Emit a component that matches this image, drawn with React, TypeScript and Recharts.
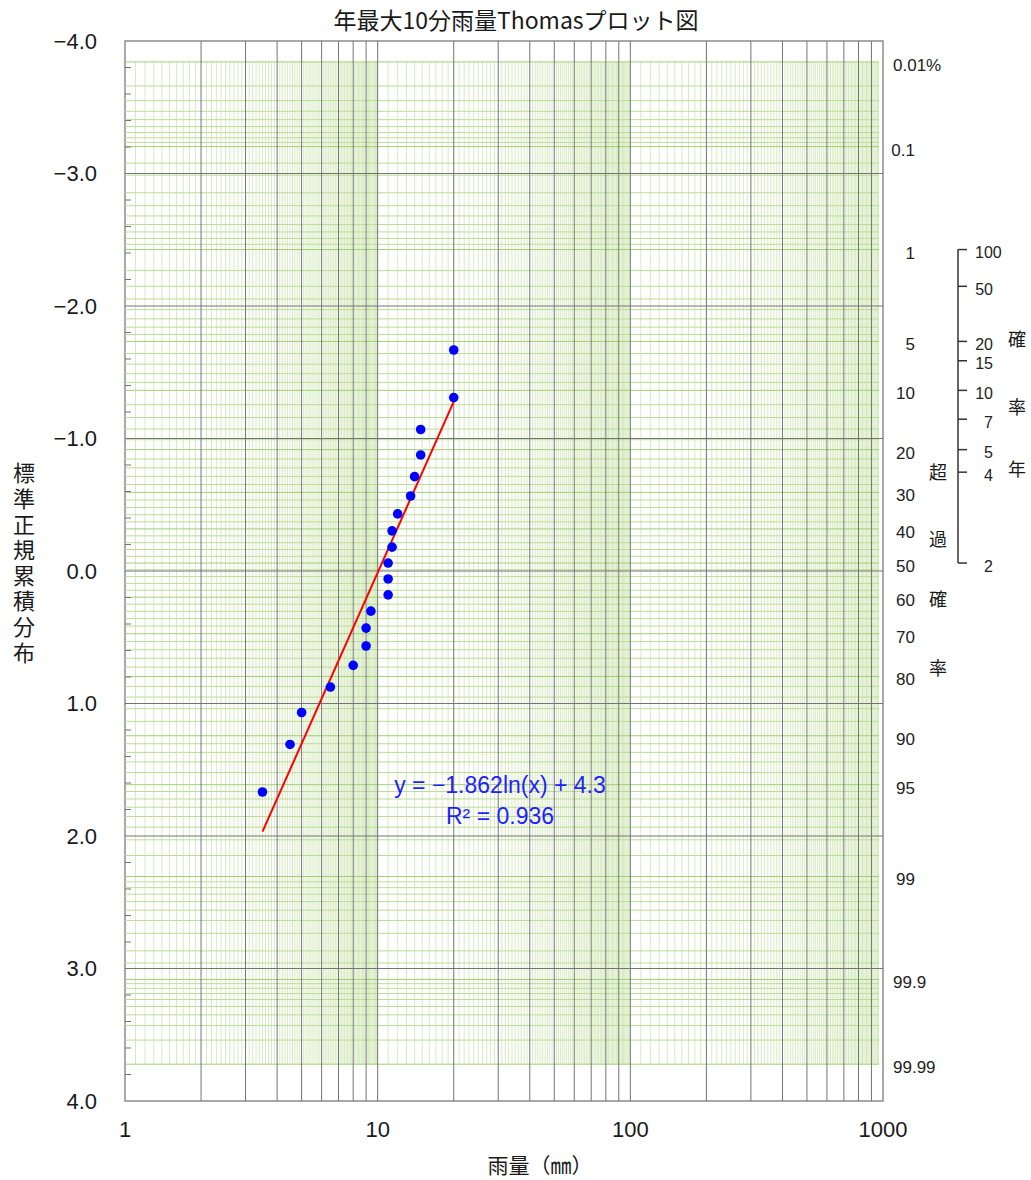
import React from "react";
import { ScatterChart, Scatter, XAxis, YAxis, ReferenceLine, ReferenceArea } from "recharts";

// ---------- data ----------
// annual max 10-min rainfall (mm), sorted descending
const rainfall = [20.0, 20.0, 14.8, 14.8, 14.0, 13.5, 12.0, 11.4, 11.4, 11.0, 11.0, 11.0, 9.4, 9.0, 9.0, 8.0, 6.5, 5.0, 4.5, 3.5];
// plotting positions (standard normal variate)
const zScore = [-1.668, -1.309, -1.068, -0.876, -0.712, -0.566, -0.431, -0.303, -0.18, -0.06, 0.06, 0.18, 0.303, 0.431, 0.566, 0.712, 0.876, 1.068, 1.309, 1.668];

// trendline shown in chart: y = -1.862 ln(x) + 4.3, R² = 0.936
const TREND_SLOPE = -1.862;
const TREND_INTERCEPT = 4.3;
const TREND_R2 = "0.936";

const TITLE = "年最大10分雨量Thomasプロット図";
const X_TITLE = "雨量（㎜）";
const Y_TITLE = "標準正規累積分布";
const PROB_TITLE = ["超", "過", "確", "率"];
const RP_TITLE = ["確", "率", "年"];

const xTicks = [1, 10, 100, 1000];
const yTicks = [-4, -3, -2, -1, 0, 1, 2, 3, 4];
const yMinorTicks = [-3.8, -3.6, -3.4, -3.2, -2.8, -2.6, -2.4, -2.2, -1.8, -1.6, -1.4, -1.2, -0.8, -0.6, -0.4, -0.2,
  0.2, 0.4, 0.6, 0.8, 1.2, 1.4, 1.6, 1.8, 2.2, 2.4, 2.6, 2.8, 3.2, 3.4, 3.6, 3.8];
const xMajorLines = [2, 3, 4, 5, 6, 7, 8, 9, 10, 20, 30, 40, 50, 60, 70, 80, 90, 100, 200, 300, 400, 500, 600, 700, 800, 900];

// exceedance probability labels (%) on the right
const probLabels = ["0.01%", "0.1", "1", "5", "10", "20", "30", "40", "50", "60", "70", "80", "90", "95", "99", "99.9", "99.99"];
const probValues = [0.01, 0.1, 1, 5, 10, 20, 30, 40, 50, 60, 70, 80, 90, 95, 99, 99.9, 99.99];
// return periods (years)
const returnPeriods = [100, 50, 20, 15, 10, 7, 5, 4, 2];

// probability-paper background lines (%)
const paperProbsLow = [0.01, 0.02, 0.03, 0.04, 0.05, 0.06, 0.07, 0.08, 0.09, 0.1, 0.15, 0.2, 0.3, 0.4, 0.5, 0.6, 0.7, 0.8, 0.9,
  1, 1.5, 2, 2.5, 3, 3.5, 4, 4.5, 5, 6, 7, 8, 9, 10, 12, 14, 16, 18, 20, 22, 24, 26, 28, 30, 32, 34, 36, 38, 40, 42, 44, 46, 48, 50];
const paperDecades = [1, 10, 100];
const PAPER_X_MAX = 965;

// the printed probability paper sits slightly shifted/stretched vs. the chart's own z-axis
const PAPER_SHIFT = -0.06;
const PAPER_STRETCH = 1.017;

// ---------- helpers ----------
function invNorm(p: number): number {
  const a = [-3.969683028665376e1, 2.209460984245205e2, -2.759285104469687e2, 1.38357751867269e2, -3.066479806614716e1, 2.506628277459239];
  const b = [-5.447609879822406e1, 1.615858368580409e2, -1.556989798598866e2, 6.680131188771972e1, -1.328068155288572e1];
  const c = [-7.784894002430293e-3, -3.223964580411365e-1, -2.400758277161838, -2.549732539343734, 4.374664141464968, 2.938163982698783];
  const d = [7.784695709041462e-3, 3.224671290700398e-1, 2.445134137142996, 3.754408661907416];
  const pl = 0.02425;
  if (p < pl) {
    const q = Math.sqrt(-2 * Math.log(p));
    return (((((c[0] * q + c[1]) * q + c[2]) * q + c[3]) * q + c[4]) * q + c[5]) / ((((d[0] * q + d[1]) * q + d[2]) * q + d[3]) * q + 1);
  }
  if (p <= 1 - pl) {
    const q = p - 0.5;
    const r = q * q;
    return ((((((a[0] * r + a[1]) * r + a[2]) * r + a[3]) * r + a[4]) * r + a[5]) * q) / (((((b[0] * r + b[1]) * r + b[2]) * r + b[3]) * r + b[4]) * r + 1);
  }
  const q = Math.sqrt(-2 * Math.log(1 - p));
  return -(((((c[0] * q + c[1]) * q + c[2]) * q + c[3]) * q + c[4]) * q + c[5]) / ((((d[0] * q + d[1]) * q + d[2]) * q + d[3]) * q + 1);
}
const paperZ = (pct: number) => PAPER_SHIFT + PAPER_STRETCH * invNorm(pct / 100);

const W = 1031;
const H = 1180;
const LEFT_AXIS_W = 110;
const X_AXIS_H = 50;
const PROB_AXIS_W = 75;
const RP_AXIS_W = 73;

const NUM_FONT = "'Liberation Sans', Arial, sans-serif";
const JP_FONT = "'Noto Sans CJK JP', 'Noto Sans', sans-serif";
const DARK = "#747474";
const GREEN_FINE = "#d6ebbf";
const GREEN_H = "#bddc97";
const GREEN_MAJOR = "#a3ce74";

const fmtY = (v: number) => (v < 0 ? "\u2212" + Math.abs(v).toFixed(1) : v.toFixed(1));

const probTickZ = probValues.map(paperZ);
const rpTickZ = returnPeriods.map((t) => paperZ(100 / t));

const nearestIdx = (arr: number[], v: number) => {
  let best = 0;
  arr.forEach((a, i) => {
    if (Math.abs(a - v) < Math.abs(arr[best] - v)) best = i;
  });
  return best;
};

const ProbTick = (props: any) => {
  const { x, y, payload } = props;
  const label = probLabels[nearestIdx(probTickZ, payload.value)];
  const short = label.length <= 3;
  return (
    <text x={short ? x + 32 : x + 10} y={y + 3} dy="0.35em" textAnchor={short ? "end" : "start"} fontSize={17} fontFamily={NUM_FONT} fill="#222">
      {label}
    </text>
  );
};

const RpTick = (props: any) => {
  const { x, y, payload } = props;
  const label = String(returnPeriods[nearestIdx(rpTickZ, payload.value)]);
  const long = label.length >= 3;
  return (
    <text x={long ? x + 8 : x + 26} y={y + 3} dy="0.35em" textAnchor={long ? "start" : "end"} fontSize={16} fontFamily={NUM_FONT} fill="#222">
      {label}
    </text>
  );
};

const EmptyShape = () => <g />;
const Dot = (props: any) => <circle cx={props.cx} cy={props.cy} r={4.8} fill="#0000FF" />;

export default function App() {
  const points = rainfall.map((x, i) => ({ x, y: zScore[i] }));
  const xMin = Math.min(...rainfall);
  const xMax = Math.max(...rainfall);
  const trend = [xMin, xMax].map((x) => ({ x, y: TREND_SLOPE * Math.log(x) + TREND_INTERCEPT }));

  const paperProbs = [...paperProbsLow, ...paperProbsLow.filter((p) => p !== 50).map((p) => Number((100 - p).toFixed(2))).reverse()];
  const zTop = paperZ(0.01);
  const zBottom = paperZ(99.99);
  const fineX: number[] = [];
  paperDecades.forEach((d) => {
    for (let k = 11; k <= 99; k++) {
      if (k % 10 === 0) continue;
      const v = Number(((d * k) / 10).toFixed(3));
      if (v <= PAPER_X_MAX) fineX.push(v);
    }
  });

  return (
    <div style={{ position: "absolute", left: 0, top: 0, width: W, height: H, background: "#fff" }}>
      <ScatterChart
        width={W}
        height={H}
        margin={{ top: 41, right: W - 883 - PROB_AXIS_W - RP_AXIS_W, bottom: 1180 - 1101 - X_AXIS_H, left: 125 - LEFT_AXIS_W }}
      >
        <XAxis
          type="number"
          dataKey="x"
          scale="log"
          domain={[1, 1000]}
          ticks={xTicks}
          interval={0}
          allowDataOverflow
          height={X_AXIS_H}
          axisLine={false}
          tickLine={false}
          tickSize={0}
          tickMargin={20}
          tick={{ fontSize: 22, fontFamily: NUM_FONT, fill: "#1a1a1a" }}
        />
        <YAxis
          type="number"
          dataKey="y"
          domain={[-4, 4]}
          reversed
          ticks={yTicks}
          interval={0}
          allowDataOverflow
          width={LEFT_AXIS_W}
          axisLine={false}
          tickLine={false}
          tickSize={0}
          tickMargin={28}
          tickFormatter={fmtY}
          tick={{ fontSize: 22, fontFamily: NUM_FONT, fill: "#1a1a1a" }}
        />
        <YAxis
          yAxisId="prob"
          orientation="right"
          type="number"
          domain={[-4, 4]}
          reversed
          ticks={probTickZ}
          interval={0}
          allowDataOverflow
          width={PROB_AXIS_W}
          axisLine={false}
          tickLine={false}
          tickSize={0}
          tickMargin={0}
          tick={ProbTick}
        />
        <YAxis
          yAxisId="rp"
          orientation="right"
          type="number"
          domain={[-4, 4]}
          reversed
          ticks={rpTickZ}
          interval={0}
          allowDataOverflow
          width={RP_AXIS_W}
          axisLine={false}
          stroke="#333"
          tickLine={{ stroke: "#333", strokeWidth: 1.5 }}
          tickSize={9}
          tickMargin={0}
          tick={RpTick}
        />

        {/* probability paper: fine verticals */}
        {fineX.map((v) => (
          <ReferenceLine
            key={"fx" + v}
            segment={[{ x: v, y: zTop }, { x: v, y: zBottom }]}
            stroke={GREEN_FINE}
            strokeWidth={1}
          />
        ))}
        {/* probability paper: horizontals */}
        {paperProbs.map((p) => (
          <ReferenceLine
            key={"py" + p}
            segment={[{ x: 1, y: paperZ(p) }, { x: PAPER_X_MAX, y: paperZ(p) }]}
            stroke={probValues.includes(p) ? GREEN_MAJOR : GREEN_H}
            strokeWidth={1}
          />
        ))}
        {/* dark grid */}
        {xMajorLines.map((v) => (
          <ReferenceLine key={"dx" + v} x={v} stroke={DARK} strokeWidth={1} />
        ))}
        {yTicks.filter((v) => v !== -4 && v !== 4).map((v) => (
          <ReferenceLine key={"dy" + v} y={v} stroke={DARK} strokeWidth={1} />
        ))}
        <ReferenceArea x1={1} x2={1000} y1={-4} y2={4} fill="none" stroke="#8c8c8c" strokeWidth={1.5} />
        {yMinorTicks.map((v) => (
          <ReferenceLine
            key={"mt" + v}
            y={v}
            shape={(p: any) => <line x1={p.x1} y1={p.y1} x2={p.x1 + 6} y2={p.y1} stroke={DARK} strokeWidth={1} />}
          />
        ))}
        {/* return-period bracket line */}
        <ReferenceArea
          y1={rpTickZ[0]}
          y2={rpTickZ[rpTickZ.length - 1]}
          shape={(p: any) => (
            <line
              x1={p.x + p.width + PROB_AXIS_W}
              y1={p.y}
              x2={p.x + p.width + PROB_AXIS_W}
              y2={p.y + p.height}
              stroke="#333"
              strokeWidth={1.5}
            />
          )}
        />

        <Scatter data={trend} line={{ stroke: "#FF0000", strokeWidth: 2 }} shape={EmptyShape} isAnimationActive={false} />
        <Scatter data={points} shape={Dot} isAnimationActive={false} />
      </ScatterChart>

      <svg width={W} height={H} style={{ position: "absolute", left: 0, top: 0, pointerEvents: "none" }}>
        <text x={516} y={29} textAnchor="middle" fontSize={23} fontFamily={JP_FONT} fill="#1a1a1a">
          {TITLE}
        </text>
        <text x={540} y={1173} textAnchor="middle" fontSize={21} fontFamily={JP_FONT} fill="#1a1a1a">
          {X_TITLE}
        </text>
        <text
          x={24}
          y={462}
          fontSize={22}
          fontFamily={JP_FONT}
          fill="#1a1a1a"
          letterSpacing={3.6}
          style={{ writingMode: "vertical-rl", textOrientation: "upright" } as any}
        >
          {Y_TITLE}
        </text>
        {PROB_TITLE.map((ch, i) => (
          <text key={"pt" + i} x={938} y={[473, 540, 600, 669][i]} dy="0.36em" textAnchor="middle" fontSize={18} fontFamily={JP_FONT} fill="#1a1a1a">
            {ch}
          </text>
        ))}
        {RP_TITLE.map((ch, i) => (
          <text key={"rt" + i} x={1017} y={[340, 408, 470][i]} dy="0.36em" textAnchor="middle" fontSize={18} fontFamily={JP_FONT} fill="#1a1a1a">
            {ch}
          </text>
        ))}
        <text x={500} y={793} textAnchor="middle" fontSize={23} fontFamily={NUM_FONT} fill="#1f1fff">
          {`y = \u22121.862ln(x) + 4.3`}
        </text>
        <text x={500} y={824} textAnchor="middle" fontSize={23} fontFamily={NUM_FONT} fill="#1f1fff">
          {`R² = ${TREND_R2}`}
        </text>
      </svg>
    </div>
  );
}
